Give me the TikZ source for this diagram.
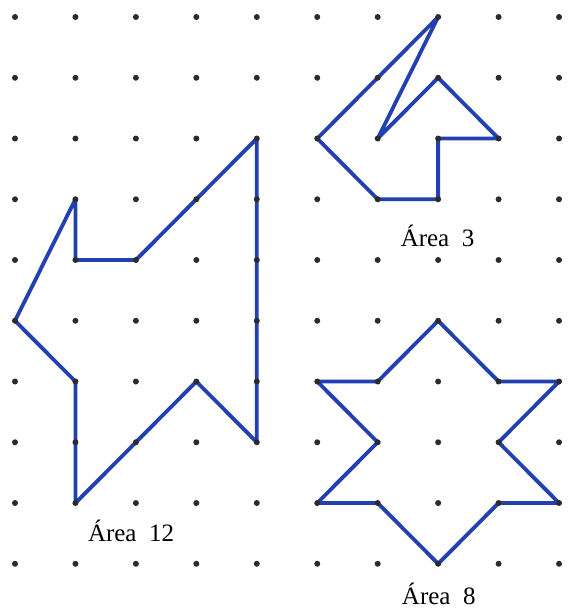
\documentclass[tikz,border=0pt]{standalone}
\usepackage{fontspec}
\setmainfont{Liberation Serif}
\usetikzlibrary{positioning}
\definecolor{pen}{HTML}{2340B0}
\definecolor{peg}{HTML}{2B2B2B}
\tikzset{shapeline/.style={draw=pen,line width=3.8pt,line join=round},pegdot/.style={fill=peg},arealabel/.style={font=\fontsize{25}{29}\selectfont,inner sep=0pt,anchor=base}}

\begin{document}
\begin{tikzpicture}[x=60.45pt,y=-60.75pt]
\useasboundingbox (-.248,-.280) rectangle (9.148,9.794);
\draw[shapeline] (0,5)--(1,3)--(1,4)--(2,4)--(4,2)--(4,7)--(3,6)--(1,8)--(1,6)--cycle;
\draw[shapeline] (7,0)--(5,2)--(6,3)--(7,3)--(7,2)--(8,2)--(7,1)--(6,2)--cycle;
\draw[shapeline] (7,5)--(8,6)--(9,6)--(8,7)--(9,8)--(8,8)--(7,9)--(6,8)--(5,8)--(6,7)--(5,6)--(6,6)--cycle;
\foreach \i in {0,...,9}{\foreach \j in {0,...,9}{
\fill[pegdot] (\i,\j) circle[radius=3pt];}}
\node[arealabel] (area12) at (1.92,8.64) {Área\enspace 12};
\node[arealabel] (area3) at (6.99,3.78) {Área\enspace 3};
\node[arealabel] (area8) at (7.01,9.67) {Área\enspace 8};
\end{tikzpicture}
\end{document}
